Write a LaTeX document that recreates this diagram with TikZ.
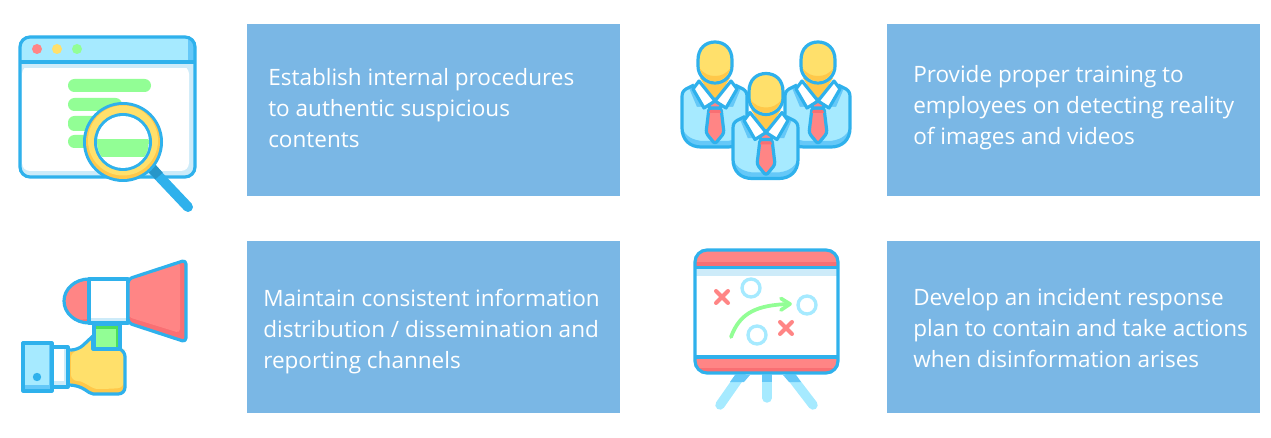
\documentclass[tikz,border=0pt]{standalone}
\usepackage{fontspec}
\setmainfont{Open Sans}
\usetikzlibrary{arrows.meta}
\usetikzlibrary{calc}
\definecolor{boxblue}{HTML}{7AB7E5}
\definecolor{linecol}{HTML}{2FB1EC}
\definecolor{skyfill}{HTML}{A6EAFF}
\definecolor{skydark}{HTML}{65C8F8}
\definecolor{palefill}{HTML}{CDEBF9}
\definecolor{redfill}{HTML}{FF8585}
\definecolor{reddark}{HTML}{F96F73}
\definecolor{yelfill}{HTML}{FFE06B}
\definecolor{yeldark}{HTML}{FFC84A}
\definecolor{grnfill}{HTML}{92FE95}
\definecolor{grndark}{HTML}{4EDF5A}
\tikzset{
  textbox/.style={fill=boxblue, minimum width=279.75pt, minimum height=129pt,
    inner sep=0pt, anchor=north west},
  boxtext/.style={text=white, font=\fontsize{16.9pt}{23.3pt}\selectfont,
    align=left, anchor=west, inner sep=0pt},
  outline/.style={draw=linecol, line width=2.4pt, line join=round},
  greenbar/.style={fill=grnfill, rounded corners=4.8pt}
}
\begin{document}
\begin{tikzpicture}[x=0.75pt, y=-0.75pt]
  \useasboundingbox (0, 0) rectangle (1271, 438);

  % text boxes
  \node [textbox] (boxa) at (247, 24) {};
  \node [textbox] (boxb) at (887, 24) {};
  \node [textbox] (boxc) at (247, 241) {};
  \node [textbox] (boxd) at (887, 241) {};

  \node [boxtext] (texta) at (268, 108)
  {Establish internal procedures\\to authentic suspicious\\contents};
  \node [boxtext] (textb) at (913, 108)
  {Provide proper training to\\employees on detecting reality\\of images and videos};
  \node [boxtext] (textc) at (263, 332)
  {Maintain consistent information\\distribution / dissemination and\\reporting channels};
  \node [boxtext] (textd) at (913, 328)
  {Develop an incident response\\plan to contain and take actions\\when disinformation arises};

  % browser window
  \fill [palefill, rounded corners=7.5pt] (19, 36) rectangle (196, 178);
  \fill [white, rounded corners=6pt] (22, 66) -- (22, 171) -- (189, 171) -- (189, 66) -- cycle;
  \fill [palefill] (22, 63) rectangle (193, 68);
  \begin{scope}
    \clip [rounded corners=7.5pt] (19, 36) rectangle (196, 178);
    \fill [skyfill] (19, 36) rectangle (196, 62);
    \fill [skydark] (188, 36) rectangle (196, 62);
  \end{scope}
  \draw [outline, rounded corners=7.5pt] (20, 37) rectangle (195, 177);
  \draw [outline] (20, 62) -- (195, 62);
  \foreach \dotx/\dotcol in {37/redfill, 57/yelfill, 77/grnfill} {
    \fill [\dotcol] (\dotx, 49) circle (5);
  }
  \fill [greenbar] (68, 79) rectangle (151, 92);
  \fill [greenbar] (68, 98) rectangle (122, 111);
  \fill [greenbar] (68, 116) rectangle (113, 131);
  \fill [greenbar] (68, 135) rectangle (150, 148);

  % magnifier
  \draw [linecol, line width=7.5pt, line cap=round] (153, 170) -- (188, 207);
  \draw [linecol!85!black, line width=7.5pt] (150, 166) -- (159, 176);
  \fill [linecol] (123, 142) circle (40);
  \fill [yeldark] (123, 142) circle (37);
  \fill [yelfill] (123, 140.5) circle (35);
  \fill [linecol] (123, 142) circle (29);
  \fill [white] (123, 142) circle (26);
  \begin{scope}
    \clip (123, 142) circle (26);
    \fill [grnfill] (90, 139) rectangle (149, 157);
  \end{scope}

  % megaphone
  \fill [redfill] (89, 279) arc [start angle=-90, end angle=-270, x radius=25, y radius=22] -- cycle;
  \fill [reddark] (89, 323) arc [start angle=90, end angle=120, x radius=25, y radius=22] -- (89, 319) -- cycle;
  \draw [outline] (89, 279) arc [start angle=-90, end angle=-270, x radius=25, y radius=22];
  \fill [white] (89, 279) rectangle (128, 323);
  \fill [palefill] (89, 318) rectangle (128, 323);
  \draw [outline] (89, 279) rectangle (128, 323);
  \fill [reddark, rounded corners=3pt] (128, 279) -- (186, 260) -- (186, 342) -- (128, 323) -- cycle;
  \fill [redfill, rounded corners=3pt] (128, 279) -- (180, 262) -- (180, 333) -- (128, 317) -- cycle;
  \draw [outline, rounded corners=3pt] (128, 279) -- (186, 260) -- (186, 342) -- (128, 323) -- cycle;

  \fill [grnfill] (94, 324) rectangle (120, 349);
  \fill [grndark] (94, 324) rectangle (120, 329);
  \fill [grndark] (116, 324) rectangle (120, 349);
  \draw [outline] (94, 324) rectangle (120, 349);

  % hand and cuffs
  \path [fill=yeldark, rounded corners=5pt] (68, 350) -- (78, 350) -- (93, 336)
    -- (93, 349) -- (120, 349) -- (125, 350) -- (125, 394) -- (100, 394)
    .. controls (88, 394) and (84, 385) .. (68, 385) -- cycle;
  \path [fill=yelfill, rounded corners=5pt] (71, 351) -- (78, 351) -- (93, 337)
    -- (93, 349) -- (124, 350) -- (124, 388) -- (104, 389)
    .. controls (92, 389) and (84, 381) .. (71, 381) -- cycle;
  \draw [outline, rounded corners=5pt] (68, 350) -- (78, 350) -- (93, 336);
  \draw [outline, rounded corners=5pt] (120, 349) -- (125, 350) -- (125, 394) -- (100, 394)
    .. controls (88, 394) and (84, 385) .. (68, 385);
  \draw [outline] (93, 336) -- (93, 349) -- (120, 349);

  \fill [white] (52, 347) rectangle (68, 387);
  \fill [palefill] (52, 381) rectangle (68, 387);
  \fill [palefill] (64, 347) rectangle (68, 387);
  \draw [outline] (52, 347) rectangle (68, 387);
  \fill [skyfill] (23, 343) rectangle (52, 391);
  \fill [skydark] (23, 385) rectangle (52, 391);
  \fill [skydark] (49, 343) rectangle (52, 391);
  \draw [outline] (23, 343) rectangle (52, 391);
  \fill [linecol] (37, 377) circle (4.2);

  % three people: back pair first
  \foreach \offx/\offy in {0/0, 103/0, 51/31.5} {
    \begin{scope}[shift={(\offx, \offy)}]
      % body
      \path [fill=skyfill] (694, 85) -- (686, 89) .. controls (683, 91) and (682, 93) .. (682, 97)
        -- (682, 128) .. controls (682, 140) and (690, 147) .. (701, 147) -- (728, 147)
        .. controls (739, 147) and (747, 140) .. (747, 128) -- (747, 97)
        .. controls (747, 93) and (746, 91) .. (743, 89) -- (735, 85) -- cycle;
      \fill [skydark] (683, 128) .. controls (684, 136) and (694, 141) .. (704, 141)
        -- (725, 141) .. controls (735, 141) and (745, 136) .. (746, 128)
        .. controls (746, 140) and (738, 146) .. (728, 146) -- (701, 146)
        .. controls (691, 146) and (683, 140) .. (683, 128) -- cycle;
      \fill [skydark] (689, 88) -- (697, 107) -- (733, 107) -- (741, 88) -- cycle;
      \fill [skyfill] (697, 107) -- (733, 107) -- (715, 120) -- cycle;
      \draw [outline] (694, 85) -- (686, 89) .. controls (683, 91) and (682, 93) .. (682, 97)
        -- (682, 128) .. controls (682, 140) and (690, 147) .. (701, 147) -- (728, 147)
        .. controls (739, 147) and (747, 140) .. (747, 128) -- (747, 97)
        .. controls (747, 93) and (746, 91) .. (743, 89) -- (735, 85);
      % neck and collar
      \fill [yeldark] (700, 78) -- (730, 78) -- (715, 102) -- cycle;
      \draw [outline, fill=redfill, rounded corners=2pt] (709, 108) -- (721, 108) -- (724, 133)
        -- (715, 144) -- (706, 133) -- cycle;
      \fill [reddark] (710, 110) -- (720, 110) -- (721, 113) -- (709, 113) -- cycle;
      \draw [outline, fill=redfill] (707, 103) -- (715, 99) -- (723, 103) -- (720, 108) -- (710, 108) -- cycle;
      \draw [outline, fill=white] (699, 81) -- (715, 101) -- (704, 108) -- (693, 89) -- cycle;
      \draw [outline, fill=white] (731, 81) -- (715, 101) -- (726, 108) -- (737, 89) -- cycle;
      % head
      \draw [outline, fill=yelfill] (698, 60) .. controls (698, 48) and (706, 42) .. (715, 42)
        .. controls (724, 42) and (732, 48) .. (732, 60) -- (732, 66)
        .. controls (732, 76) and (724, 83) .. (715, 83)
        .. controls (706, 83) and (698, 76) .. (698, 66) -- cycle;
      \fill [yeldark] (699.5, 68) .. controls (702, 76) and (708, 81.5) .. (715, 81.5)
        .. controls (722, 81.5) and (728, 76) .. (730.5, 68)
        .. controls (726, 74) and (721, 76) .. (715, 76)
        .. controls (709, 76) and (704, 74) .. (699.5, 68) -- cycle;
    \end{scope}
  }

  % presentation board
  \foreach \legx/\legy/\footx/\footy in {741/375/720/405, 767/375/767/398, 790/375/813/405} {
    \draw [skyfill, line width=7.1pt, line cap=round] (\legx, \legy) -- (\footx, \footy);
  }
  \fill [skydark] (735, 375) -- (750, 375) -- (744, 382) -- (730, 382) -- cycle;
  \fill [skydark] (762, 375) rectangle (772, 382);
  \fill [skydark] (783, 375) -- (796, 375) -- (801, 382) -- (789, 382) -- cycle;
  \fill [white, rounded corners=9pt] (695, 250) rectangle (838, 373);
  \begin{scope}
    \clip [rounded corners=9pt] (695, 250) rectangle (838, 373);
    \fill [redfill] (695, 250) rectangle (838, 268);
    \fill [reddark] (695, 262) rectangle (838, 268);
    \fill [redfill] (695, 357) rectangle (838, 374);
    \fill [reddark] (695, 368) rectangle (838, 374);
  \end{scope}
  \fill [palefill] (696, 269) rectangle (837, 276);
  \draw [outline, rounded corners=9pt] (695, 250) rectangle (838, 373);
  \draw [outline] (695, 267.5) -- (838, 267.5);
  \draw [outline] (695, 357) -- (838, 357);
  \foreach \circx/\circy in {751/288, 807/305, 757/335} {
    \draw [skyfill, line width=2.5pt] (\circx, \circy) circle (9);
  }
  \foreach \crossx/\crossy in {722/297, 786/328} {
    \draw [redfill, line width=3pt, line cap=round]
    (\crossx-6, \crossy-6) -- (\crossx+6, \crossy+6)
    (\crossx-6, \crossy+6) -- (\crossx+6, \crossy-6);
  }
  \draw [grnfill, line width=2.8pt, line cap=round, line join=round]
  (731, 337) .. controls (740, 312) and (758, 305) .. (789, 304);
  \draw [grnfill, line width=2.8pt, line cap=round, line join=round]
  (781, 298.5) -- (790, 304) -- (781, 310);
\end{tikzpicture}
\end{document}
